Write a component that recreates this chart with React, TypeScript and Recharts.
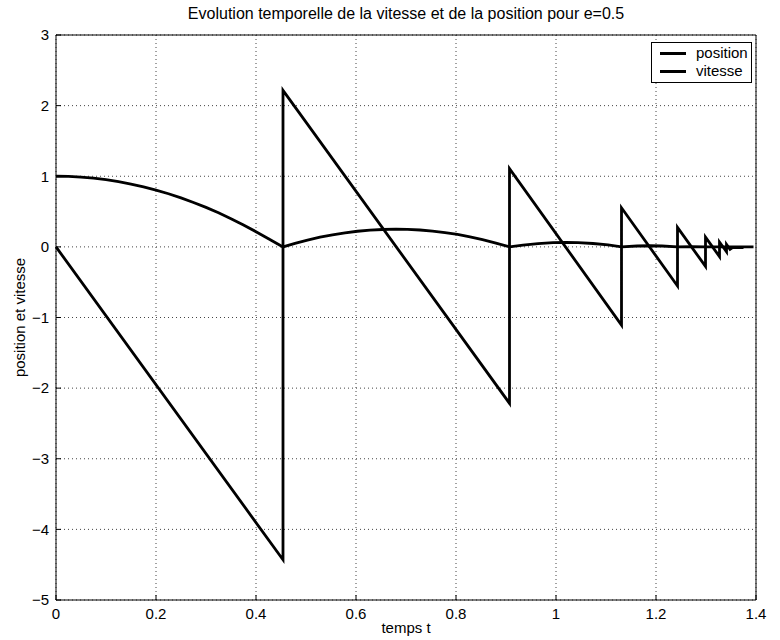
import { LineChart, Line, XAxis, YAxis, CartesianGrid } from 'recharts'

const FONT = '"Liberation Sans", Arial, Helvetica, sans-serif'
const INK = '#000'

// axes
const X_TICKS = [0, 0.2, 0.4, 0.6, 0.8, 1, 1.2, 1.4]
const Y_TICKS = [-5, -4, -3, -2, -1, 0, 1, 2, 3]

// position de la balle (arcs paraboliques)
const POS_T = [
  0, 0.025, 0.05, 0.075, 0.1, 0.125, 0.15, 0.175, 0.2, 0.225, 0.25, 0.275, 0.3, 0.325, 0.35, 0.375, 0.4, 0.425, 0.454,
  0.478, 0.503, 0.528, 0.553, 0.578, 0.603, 0.628, 0.653, 0.68, 0.703, 0.728, 0.753, 0.778, 0.803, 0.828, 0.853, 0.878, 0.907,
  0.934, 0.964, 0.994, 1.02, 1.044, 1.074, 1.104, 1.131,
  1.162, 1.187, 1.212, 1.243,
  1.271, 1.299, 1.327, 1.395,
]
const POS_Y = [
  1, 0.997, 0.988, 0.972, 0.951, 0.923, 0.89, 0.85, 0.804, 0.752, 0.693, 0.629, 0.559, 0.482, 0.399, 0.31, 0.215, 0.114, 0,
  0.05, 0.096, 0.137, 0.171, 0.199, 0.221, 0.237, 0.246, 0.25, 0.247, 0.239, 0.224, 0.203, 0.176, 0.142, 0.103, 0.058, 0,
  0.026, 0.047, 0.059, 0.0625, 0.06, 0.048, 0.028, 0,
  0.0125, 0.016, 0.0125, 0,
  0.004, 0, 0, 0,
]

// vitesse (dents de scie, sauts aux rebonds)
const VIT_T = [
  0, 0.454, 0.454, 0.907, 0.907, 1.131, 1.131, 1.243, 1.243, 1.299, 1.299, 1.327, 1.327, 1.341, 1.341, 1.348, 1.353, 1.375,
]
const VIT_Y = [
  0, -4.43, 2.215, -2.215, 1.107, -1.107, 0.554, -0.554, 0.277, -0.277, 0.138, -0.138, 0.069, -0.069, 0.035, -0.035, -0.01, -0.01,
]

const SERIES = ['position', 'vitesse']

const position = POS_T.map((t, i) => ({ t, y: POS_Y[i] }))
const vitesse = VIT_T.map((t, i) => ({ t, y: VIT_Y[i] }))

const fmtY = (v: number) => (v < 0 ? '\u2212' + Math.abs(v) : String(v))
const blank = () => ''

// légende façon matlab, posée par-dessus le graphe
function LegendBox() {
  return (
    <div style={{
      position: 'absolute', left: 651, top: 42, width: 99, height: 38,
      border: `1px solid ${INK}`, background: '#fff', paddingTop: 1,
      fontFamily: FONT, fontSize: 15, color: INK, lineHeight: '18px',
    }}>
      {SERIES.map((s) => (
        <div key={s} style={{ display: 'flex', alignItems: 'center', height: 18 }}>
          <span style={{ width: 26, height: 0, borderTop: `3px solid ${INK}`, marginLeft: 8, marginRight: 10 }} />
          <span>{s}</span>
        </div>
      ))}
    </div>
  )
}

export default function App() {
  const tick = { fill: INK, fontSize: 15, fontFamily: FONT }
  return (
    <div style={{ position: 'absolute', left: 0, top: 0, width: 780, height: 640, background: '#fff' }}>
      <LineChart width={780} height={640} margin={{ top: 34, right: 23, bottom: 0, left: 0 }}>
        <CartesianGrid stroke="#444" strokeDasharray="1 3" />
        <XAxis
          dataKey="t" type="number" domain={[0, 1.4]} ticks={X_TICKS} height={40}
          tick={tick} tickSize={-5} tickMargin={13} stroke={INK}
          label={{ value: 'temps t', position: 'insideBottom', offset: 7, fill: INK, fontSize: 15, fontFamily: FONT }}
        />
        <XAxis
          xAxisId="top" orientation="top" dataKey="t" type="number" domain={[0, 1.4]} ticks={X_TICKS} height={1}
          tickSize={-5} tickFormatter={blank} stroke={INK}
          label={{
            value: 'Evolution temporelle de la vitesse et de la position pour e=0.5',
            position: 'top', offset: 15, fill: INK, fontSize: 16, fontFamily: FONT,
          }}
        />
        <YAxis
          type="number" domain={[-5, 3]} ticks={Y_TICKS} width={56}
          tick={tick} tickSize={-5} tickMargin={12} tickFormatter={fmtY} stroke={INK}
          label={{
            value: 'position et vitesse', angle: -90, position: 'insideLeft', offset: 20,
            fill: INK, fontSize: 15, fontFamily: FONT, style: { textAnchor: 'middle' },
          }}
        />
        <YAxis
          yAxisId="right" orientation="right" type="number" domain={[-5, 3]} ticks={Y_TICKS} width={1}
          tickSize={-5} tickFormatter={blank} stroke={INK}
        />
        <Line data={position} dataKey="y" name="position" type="linear" stroke={INK} strokeWidth={2.8}
          dot={false} activeDot={false} isAnimationActive={false} />
        <Line data={vitesse} dataKey="y" name="vitesse" type="linear" stroke={INK} strokeWidth={2.8}
          dot={false} activeDot={false} isAnimationActive={false} />
      </LineChart>
      <LegendBox />
    </div>
  )
}
